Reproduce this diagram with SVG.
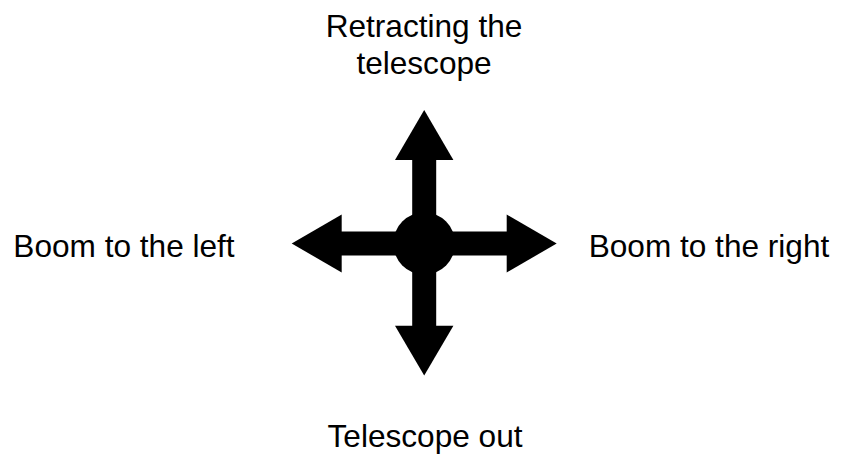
<svg xmlns="http://www.w3.org/2000/svg" width="851" height="456" viewBox="0 0 851 456">
  <style>
    .lbl { font-family: "Liberation Sans", Arial, sans-serif; font-size: 31.6px; fill: #000; text-anchor: middle; }
    .shaft { stroke: #000; stroke-width: 24; fill: none; }
    .head { fill: #000; stroke: none; }
  </style>
  <rect width="851" height="456" fill="#fff"/>
  <g id="connectors">
    <line class="shaft" x1="341" y1="243.5" x2="507" y2="243.5"/>
    <line class="shaft" x1="424.2" y1="159.5" x2="424.2" y2="326"/>
    <polygon class="head" points="291.7,243.5 341.7,214.5 341.7,272.5"/>
    <polygon class="head" points="556.7,243.5 506.7,214.5 506.7,272.5"/>
    <polygon class="head" points="424.2,110 395,160 453.4,160"/>
    <polygon class="head" points="424.2,375.5 395,325.7 453.4,325.7"/>
  </g>
  <g id="center">
    <circle cx="424.2" cy="243.5" r="31" fill="#000"/>
  </g>
  <g id="up">
    <text class="lbl" x="424" y="37">Retracting the</text>
    <text class="lbl" x="424" y="74">telescope</text>
  </g>
  <g id="left">
    <text class="lbl" x="124" y="257">Boom to the left</text>
  </g>
  <g id="right">
    <text class="lbl" x="709" y="257">Boom to the right</text>
  </g>
  <g id="down">
    <text class="lbl" x="425" y="447">Telescope out</text>
  </g>
</svg>
